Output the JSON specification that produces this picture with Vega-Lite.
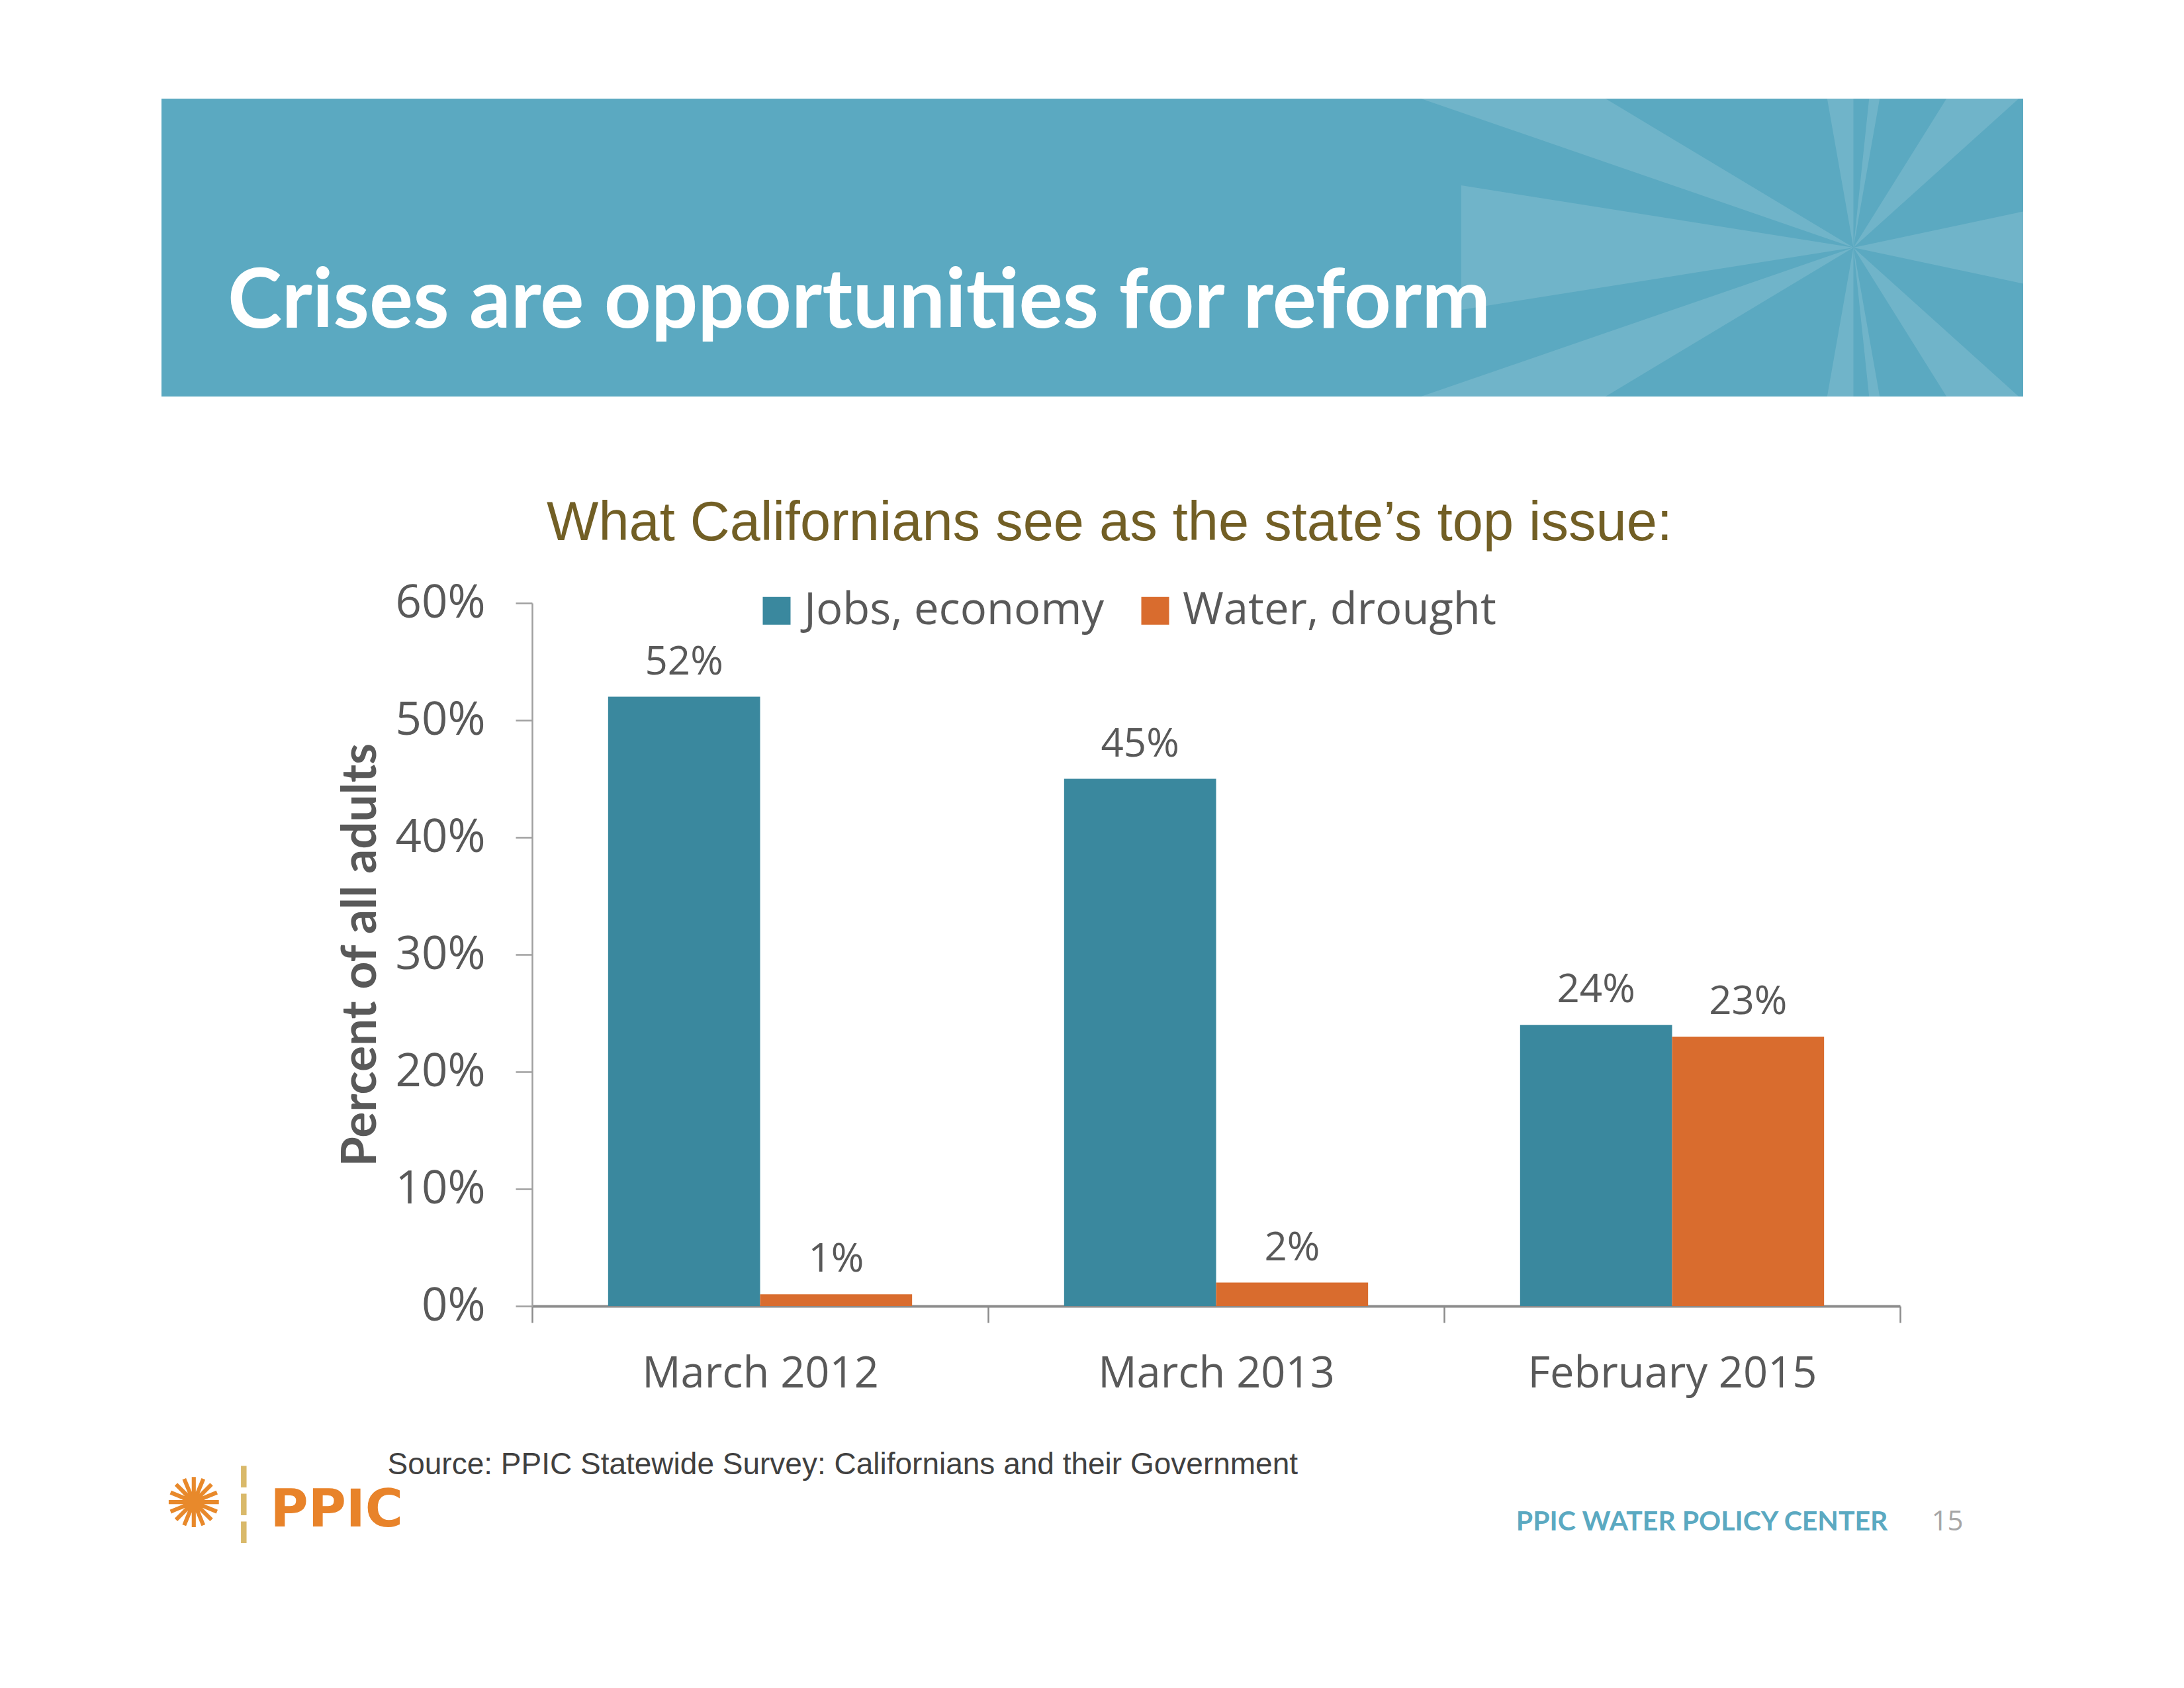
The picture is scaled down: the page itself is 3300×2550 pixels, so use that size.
{
  "$schema": "https://vega.github.io/schema/vega-lite/v6.json",
  "background": "white",
  "padding": {"left": 244, "top": 149, "right": 20, "bottom": 20},
  "bounds": "flush",
  "spacing": 312,
  "resolve": {"legend": {"color": "independent"}, "scale": {"color": "independent"}},
  "config": {
    "view": {"stroke": null},
    "font": "Open Sans",
    "axis": {"grid": false}
  },
  "vconcat": [
    {
      "width": 2813,
      "height": 450,
      "view": {"fill": "#5BA9C1", "stroke": null},
      "title": {
        "text": "Crises are opportunities for reform",
        "orient": "top",
        "anchor": "start",
        "frame": "group",
        "dx": 100,
        "offset": -372,
        "font": "Lato",
        "fontSize": 124,
        "fontWeight": "bold",
        "color": "#FFFFFF"
      },
      "data": {"values": [{"panel": "header"}]},
      "layer": [
        {"mark": {"type": "rect", "color": "#5BA9C1"}},
        {
          "mark": {
            "type": "point",
            "clip": true,
            "filled": true,
            "fill": "#FFFFFF",
            "opacity": 0.13,
            "strokeWidth": 0,
            "size": 40000,
            "shape": "M11.5 0L14.434 -0.624L14.434 0.624Z M11.5 0L5.574 -0.939L5.574 0.939Z M11.5 0L5.5 -3.605L4.881 -2.279Z M11.5 0L5.5 3.605L4.881 2.279Z M11.5 0L11.5 -3L10.979 -2.954Z M11.5 0L12.021 -2.954L11.814 -2.984Z M11.5 0L11.5 3L10.979 2.954Z M11.5 0L12.021 2.954L11.814 2.984Z M11.5 0L14.472 -2.676L13.62 -3.392Z M11.5 0L14.472 2.676L13.62 3.392Z"
          }
        }
      ]
    },
    {
      "width": 2627,
      "height": 1062,
      "title": {
        "text": "What Californians see as the state’s top issue:",
        "anchor": "middle",
        "frame": "group",
        "dx": 119,
        "offset": 44,
        "font": "Liberation Sans",
        "fontSize": 83,
        "fontWeight": "normal",
        "color": "#725F25"
      },
      "layer": [
        {
          "data": {"values": [
            {"survey": "March 2012", "issue": "Jobs, economy", "share": 0.52},
            {"survey": "March 2012", "issue": "Water, drought", "share": 0.01},
            {"survey": "March 2013", "issue": "Jobs, economy", "share": 0.45},
            {"survey": "March 2013", "issue": "Water, drought", "share": 0.02},
            {"survey": "February 2015", "issue": "Jobs, economy", "share": 0.24},
            {"survey": "February 2015", "issue": "Water, drought", "share": 0.23}
          ]},
          "encoding": {
            "x": {
              "field": "survey",
              "type": "nominal",
              "scale": {"domain": ["March 2012", "March 2013", "February 2015"], "range": [560, 2627], "paddingInner": 0, "paddingOuter": 0},
              "axis": {
                "title": "Source: PPIC Statewide Survey: Californians and their Government",
                "tickBand": "extent",
                "labelAngle": 0,
                "labelLimit": 1000,
                "labelFont": "Open Sans",
                "labelFontSize": 65,
                "labelColor": "#595959",
                "labelPadding": 46,
                "tickSize": 25,
                "tickWidth": 2.5,
                "tickColor": "#8C8C8C",
                "domainColor": "#8C8C8C",
                "domainWidth": 4,
                "titleFont": "Liberation Sans",
                "titleFontSize": 46,
                "titleFontWeight": "normal",
                "titleColor": "#404040",
                "titleAnchor": "start",
                "titleAlign": "left",
                "titleBaseline": "alphabetic",
                "titleX": 341,
                "titleY": 253
              }
            },
            "xOffset": {
              "field": "issue",
              "type": "nominal",
              "scale": {"domain": ["Jobs, economy", "Water, drought"], "paddingInner": 0, "paddingOuter": 0.5}
            },
            "y": {
              "field": "share",
              "type": "quantitative",
              "scale": {"domain": [0, 0.6], "nice": false},
              "axis": {
                "title": "Percent of all adults",
                "values": [0, 0.1, 0.2, 0.3, 0.4, 0.5, 0.6],
                "format": ".0%",
                "offset": -560,
                "labelFont": "Open Sans",
                "labelFontSize": 69,
                "labelColor": "#595959",
                "labelPadding": 46,
                "tickSize": 25,
                "tickWidth": 2.5,
                "tickColor": "#A0A0A0",
                "domainColor": "#A0A0A0",
                "domainWidth": 2.5,
                "titleFont": "Lato",
                "titleFontSize": 73,
                "titleFontWeight": "bold",
                "titleColor": "#595959",
                "titlePadding": 22
              }
            }
          },
          "layer": [
            {
              "mark": {"type": "bar"},
              "encoding": {
                "color": {
                  "field": "issue",
                  "type": "nominal",
                  "scale": {"domain": ["Jobs, economy", "Water, drought"], "range": ["#3A889E", "#D96C2E"]},
                  "legend": {
                    "title": null,
                    "orient": "none",
                    "legendX": 896,
                    "legendY": -22,
                    "direction": "horizontal",
                    "symbolType": "square",
                    "symbolSize": 1764,
                    "symbolStrokeWidth": 0,
                    "symbolOpacity": 1,
                    "labelFont": "Open Sans",
                    "labelFontSize": 67,
                    "labelColor": "#595959",
                    "labelOffset": 8,
                    "columnPadding": 44,
                    "labelLimit": 1000
                  }
                }
              }
            },
            {
              "mark": {"type": "text", "baseline": "alphabetic", "dy": -34, "font": "Open Sans", "fontSize": 60, "color": "#595959"},
              "encoding": {
                "text": {"field": "share", "type": "quantitative", "format": ".0%"}
              }
            }
          ]
        },
        {
          "data": {"values": [{"logo": "✺"}]},
          "mark": {"type": "text", "align": "center", "baseline": "middle", "dx": -856, "dy": 303, "font": "DejaVu Sans", "fontSize": 104, "color": "#E8892B"},
          "encoding": {
            "x": {"datum": "March 2012"},
            "y": {"datum": 0},
            "text": {"field": "logo"}
          }
        },
        {
          "data": {"values": [{"divider": "┆"}]},
          "mark": {"type": "text", "align": "center", "baseline": "middle", "dx": -780, "dy": 305, "font": "DejaVu Sans", "fontSize": 108, "color": "#D9B96A"},
          "encoding": {
            "x": {"datum": "March 2012"},
            "y": {"datum": 0},
            "text": {"field": "divider"}
          }
        },
        {
          "data": {"values": [{"org": "PPIC"}]},
          "mark": {"type": "text", "align": "left", "baseline": "alphabetic", "dx": -740, "dy": 333, "font": "DejaVu Sans", "fontWeight": "bold", "fontSize": 78, "color": "#E8832A"},
          "encoding": {
            "x": {"datum": "March 2012"},
            "y": {"datum": 0},
            "text": {"field": "org"}
          }
        },
        {
          "data": {"values": [{"center": "PPIC WATER POLICY CENTER"}]},
          "mark": {"type": "text", "align": "right", "baseline": "alphabetic", "dx": 326, "dy": 339, "font": "Lato", "fontWeight": "bold", "fontSize": 41, "color": "#5BA9C1"},
          "encoding": {
            "x": {"datum": "February 2015"},
            "y": {"datum": 0},
            "text": {"field": "center"}
          }
        },
        {
          "data": {"values": [{"page": "15"}]},
          "mark": {"type": "text", "align": "right", "baseline": "alphabetic", "dx": 440, "dy": 339, "font": "Open Sans", "fontSize": 42, "color": "#A6A6A6"},
          "encoding": {
            "x": {"datum": "February 2015"},
            "y": {"datum": 0},
            "text": {"field": "page"}
          }
        }
      ]
    }
  ]
}
